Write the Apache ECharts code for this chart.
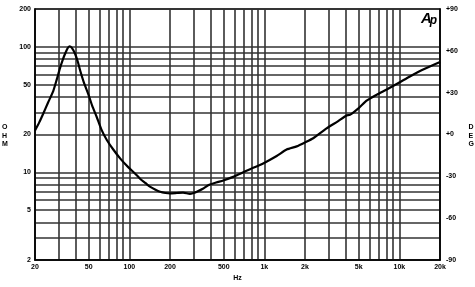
<!DOCTYPE html>
<html><head><meta charset="utf-8">
<script src="https://cdn.jsdelivr.net/npm/echarts@6/dist/echarts.min.js"></script>
<style>html,body{margin:0;padding:0;background:#fff}#c{width:475px;height:287px}</style>
</head><body><div id="c"></div>
<script>
const freqHz = [20,21.5,23,25,27.3,29,30.6,32,33.4,34.8,36,37.5,39.6,41.5,43.1,46,49.7,53,57.3,62,67.9,76,86,98,110,120,132,142,155,169,185,200,225,250,281,300,316,350,384,440,496,588,680,784,900,1012,1234,1462,1736,2000,2300,2892,3500,4060,4300,5000,5720,6800,8060,10000,11960,15000,20000];
const impedanceOhm = [21.5,25,29.3,36,44.4,55,67.3,78,88,97,101,98,88,76,65.3,52,41.8,34,27.6,22,18.2,15.2,12.8,11.0,9.8,8.9,8.2,7.7,7.3,7.0,6.85,6.8,6.85,6.9,6.73,6.85,7.0,7.4,7.9,8.3,8.6,9.2,9.9,10.6,11.3,12.0,13.5,15.2,16.1,17.3,18.7,22.4,25.5,28.4,28.7,32.5,37.2,41.5,45.7,52,58,66,75.8];
const xGridValues = [20,30,40,50,60,70,80,90,100,200,300,400,500,600,700,800,900,1000,2000,3000,4000,5000,6000,7000,8000,9000,10000,20000];
const xLabelValues = [20,50,100,200,500,1000,2000,5000,10000,20000];
const yGridValues = [2,3,4,5,6,7,8,9,10,20,30,40,50,60,70,80,90,100,200];
const yLabelValues = [2,5,10,20,50,100,200];

const data = freqHz.map((f,i)=>[f, impedanceOhm[i]]);
const font = {fontSize:7, fontWeight:'bold', color:'#000', fontFamily:'Liberation Sans, Arial, sans-serif'};
const gridLine = {color:'#333', width:1.6};
const chart = echarts.init(document.getElementById('c'), null, {renderer:'canvas'});
chart.setOption({
  animation:false,
  backgroundColor:'#fff',
  grid:{left:35, right:35, top:9, bottom:20, show:true, borderColor:'#000', borderWidth:1.5, containLabel:false},
  xAxis:{type:'log', logBase:10, min:20, max:20000,
    name:'Hz', nameLocation:'middle', nameGap:13, nameTextStyle:font,
    axisLine:{show:true, onZero:false, lineStyle:{color:'#000', width:1.5}},
    axisTick:{show:false, customValues:xGridValues},
    axisLabel:Object.assign({customValues:xLabelValues, margin:3,
      formatter:v=>{v=Math.round(v); return v>=1000 ? (v/1000)+'k' : String(v);}}, font),
    splitLine:{show:true, lineStyle:gridLine}
  },
  yAxis:[{type:'log', logBase:10, min:2, max:200,
    axisLine:{show:true, onZero:false, lineStyle:{color:'#000', width:1.5}},
    axisTick:{show:false, customValues:yGridValues},
    axisLabel:Object.assign({customValues:yLabelValues, margin:4,
      formatter:v=>String(Math.round(v))}, font),
    splitLine:{show:true, lineStyle:gridLine}
  },{type:'value', position:'right', min:-90, max:90, interval:30,
    axisLine:{show:true, onZero:false, lineStyle:{color:'#000', width:1.5}},
    axisTick:{show:false},
    axisLabel:Object.assign({margin:6, formatter:v=> v>=0 ? '+'+v : String(v)}, font),
    splitLine:{show:false}
  }],
  graphic:[
    {type:'text', left:2, top:123, style:{text:'O\nH\nM', fill:'#000', font:'bold 7px Liberation Sans', lineHeight:8.5, align:'center'}},
    {type:'text', right:1, top:123, style:{text:'D\nE\nG', fill:'#000', font:'bold 7px Liberation Sans', lineHeight:8.5, align:'center'}},
    {type:'text', left:421, top:11, style:{text:'{a|A}{p|p}', rich:{a:{font:'italic bold 15px Liberation Sans', fill:'#000'}, p:{font:'italic bold 12px Liberation Sans', fill:'#000', padding:[4,0,0,-2]}}}}
  ],
  series:[{type:'line', xAxisIndex:0, yAxisIndex:0, data:data, showSymbol:false, smooth:0.2,
    lineStyle:{color:'#000', width:2.2}, z:5}]
});
</script></body></html>
